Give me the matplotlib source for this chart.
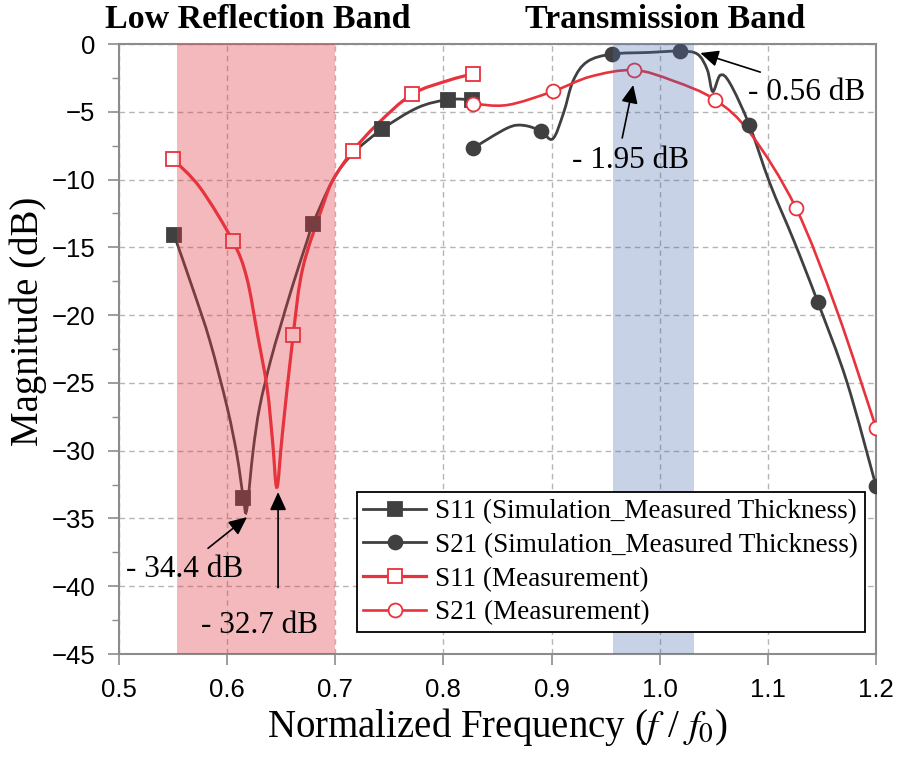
import numpy as np
import matplotlib
matplotlib.use("Agg")
import matplotlib.pyplot as plt
from matplotlib.path import Path
from matplotlib.patches import PathPatch
from matplotlib.lines import Line2D
from matplotlib.ticker import MultipleLocator, FormatStrFormatter

plt.rcParams["font.family"] = ["Liberation Sans", "DejaVu Sans"]
plt.rcParams["mathtext.fontset"] = "stix"

# ---------------- data ----------------
S11_SIM_X = [0.551, 0.568, 0.584, 0.600, 0.609, 0.615, 0.618, 0.624, 0.630, 0.640,
             0.649, 0.661, 0.674, 0.679, 0.698, 0.716, 0.743, 0.776, 0.804, 0.826]
S11_SIM_Y = [-14.1, -18.0, -21.9, -26.8, -30.3, -33.5, -34.4, -30.0, -26.8, -23.4,
             -20.9, -17.7, -14.5, -13.3, -10.0, -8.1, -6.3, -4.7, -4.1, -4.1]
S11_SIM_MK = [0, 5, 13, 16, 18, 19]

S11_MEA_X = [0.550, 0.575, 0.605, 0.618, 0.628, 0.637, 0.642, 0.646, 0.651, 0.661,
             0.670, 0.689, 0.698, 0.716, 0.739, 0.771, 0.804, 0.827]
S11_MEA_Y = [-8.5, -10.6, -14.5, -17.2, -21.4, -25.4, -29.3, -32.7, -28.8, -21.5,
             -16.5, -11.8, -10.0, -7.9, -5.9, -3.7, -2.7, -2.2]
S11_MEA_MK = [0, 2, 9, 13, 15, 17]

S21_SIM_X = [0.827, 0.859, 0.874, 0.890, 0.901, 0.911, 0.920, 0.933, 0.956, 0.990,
             1.019, 1.035, 1.044, 1.049, 1.056, 1.065, 1.083, 1.102, 1.124, 1.146,
             1.173, 1.200]
S21_SIM_Y = [-7.7, -6.2, -6.0, -6.4, -7.0, -5.1, -2.7, -1.3, -0.74, -0.62,
             -0.52, -0.75, -1.9, -3.5, -2.3, -2.9, -6.0, -10.3, -14.5, -19.0,
             -24.9, -32.6]
S21_SIM_MK = [0, 3, 8, 10, 16, 19, 21]

S21_MEA_X = [0.827, 0.859, 0.901, 0.936, 0.976, 1.012, 1.051, 1.084, 1.126, 1.164, 1.200]
S21_MEA_Y = [-4.4, -4.5, -3.5, -2.4, -1.92, -2.7, -4.1, -6.6, -12.1, -19.7, -28.3]
S21_MEA_MK = [0, 2, 4, 6, 8, 10]

LABELS = ["S11 (Simulation_Measured Thickness)", "S21 (Simulation_Measured Thickness)",
          "S11 (Measurement)", "S21 (Measurement)"]

LOW_BAND = (0.554, 0.700)
TX_BAND = (0.957, 1.032)

DARK, RED = "#404040", "#e8323c"
SERIF = "Liberation Serif"


def smooth_path(xs, ys):
    # Catmull-Rom through the read points, drawn as cubic Bezier segments
    p = np.column_stack([xs, ys])
    verts, codes = [p[0]], [Path.MOVETO]
    n = len(p)
    for i in range(n - 1):
        p0 = p[i - 1] if i > 0 else p[i]
        p3 = p[i + 2] if i + 2 < n else p[i + 1]
        c1 = p[i] + (p[i + 1] - p0) / 6
        c2 = p[i + 1] - (p3 - p[i]) / 6
        verts += [c1, c2, p[i + 1]]
        codes += [Path.CURVE4] * 3
    return Path(verts, codes)


fig = plt.figure(figsize=(9.03, 7.70), dpi=100)
ax = fig.add_axes([0.1318, 0.1506, 0.8383, 0.7922])

series = [
    (S11_SIM_X, S11_SIM_Y, S11_SIM_MK, DARK, "s", DARK, 2.0),
    (S21_SIM_X, S21_SIM_Y, S21_SIM_MK, DARK, "o", DARK, 2.0),
    (S11_MEA_X, S11_MEA_Y, S11_MEA_MK, RED, "s", "white", 2.3),
    (S21_MEA_X, S21_MEA_Y, S21_MEA_MK, RED, "o", "white", 1.9),
]
handles = []
for (xs, ys, mk, col, m, fc, lw), lab in zip(series, LABELS):
    ax.add_patch(PathPatch(smooth_path(xs, ys), fill=False, ec=col, lw=lw, zorder=3,
                           transform=ax.transData))
    ax.plot([xs[i] for i in mk], [ys[i] for i in mk], ls="none", marker=m, ms=10,
            mfc=fc, mec=col, mew=1.3, zorder=4)
    handles.append(Line2D([], [], color=col, lw=lw, marker=m, ms=10, mfc=fc, mec=col, mew=1.3))

ax.axvspan(*LOW_BAND, color="#e23840", alpha=0.35, lw=0, zorder=5)
ax.axvspan(*TX_BAND, color="#4a6bb0", alpha=0.30, lw=0, zorder=5)

ax.set_xlim(0.5, 1.2)
ax.set_ylim(-45, 0)
ax.xaxis.set_major_locator(MultipleLocator(0.1))
ax.xaxis.set_major_formatter(FormatStrFormatter("%.1f"))
ax.yaxis.set_major_locator(MultipleLocator(5))
ax.yaxis.set_minor_locator(MultipleLocator(2.5))
ax.grid(True, which="major", ls=(0, (4, 3)), color="#b5b5b5", lw=1.0, zorder=0)
ax.set_axisbelow(True)
for s in ax.spines.values():
    s.set_color("#8c8c8c"); s.set_linewidth(1.5)
ax.tick_params(which="major", direction="out", length=8, width=1.2, color="#8c8c8c",
               labelsize=18.5, pad=9)
ax.tick_params(which="minor", direction="out", length=5, width=1.0, color="#8c8c8c")

ax.set_xlabel("Normalized Frequency ($f$ / $f_0$)", family=SERIF, fontsize=28, labelpad=3)
ax.set_ylabel("Magnitude (dB)", family=SERIF, fontsize=28)
ax.yaxis.set_label_coords(-0.095, 0.545)

# band titles
ax.text(0.628, 1.026, "Low Reflection Band", transform=ax.get_xaxis_transform(),
        ha="center", va="baseline", family=SERIF, weight="bold", fontsize=24.5)
ax.text(1.005, 1.026, "Transmission Band", transform=ax.get_xaxis_transform(),
        ha="center", va="baseline", family=SERIF, weight="bold", fontsize=24.5)

# annotations
arw = dict(arrowstyle="-|>,head_length=0.55,head_width=0.25", color="black", lw=1.2,
           mutation_scale=20, shrinkA=0, shrinkB=0)
notes = [("- 0.56 dB", (1.0375, -0.66), (1.093, -2.07), (1.136, -3.6)),
         ("- 1.95 dB", (0.9755, -3.02), (0.9653, -6.93), (0.973, -8.6)),
         ("- 34.4 dB", (0.6184, -34.9), (0.5823, -37.2), (0.561, -38.8)),
         ("- 32.7 dB", (0.6471, -33.05), (0.6471, -40.1), (0.630, -42.9))]
for txt, tip, tail, pos in notes:
    ax.annotate("", xy=tip, xytext=tail, arrowprops=arw, zorder=8)
    ax.text(*pos, txt, ha="center", va="center", family=SERIF, fontsize=22.5, zorder=8)

leg = ax.legend(handles, LABELS, loc="lower left", bbox_to_anchor=(0.314, 0.036),
                borderaxespad=0, frameon=True, fancybox=False, framealpha=1,
                edgecolor="black", prop={"family": SERIF, "size": 19.5},
                handlelength=2.3, handletextpad=0.35, labelspacing=0.32, borderpad=0.25)
leg.get_frame().set_linewidth(1.3)
leg.set_zorder(10)

fig.savefig("out.png", dpi=100)
